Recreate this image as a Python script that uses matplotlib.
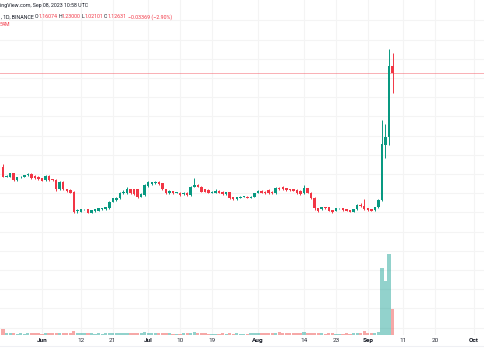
import matplotlib
matplotlib.use('Agg')
import matplotlib.pyplot as plt
import matplotlib.dates as mdates
import pandas as pd

# daily candles, 2023-05-21 .. 2023-09-08
opens = [0.635, 0.586, 0.586, 0.603, 0.569, 0.583, 0.586, 0.593, 0.600, 0.590,
         0.586, 0.577, 0.569, 0.590, 0.572, 0.569, 0.520, 0.560, 0.520, 0.517,
         0.508, 0.407, 0.404, 0.416, 0.416, 0.399, 0.407, 0.409, 0.416, 0.416,
         0.421, 0.456, 0.465, 0.473, 0.499, 0.499, 0.520, 0.520, 0.520, 0.482,
         0.491, 0.537, 0.546, 0.551, 0.557, 0.551, 0.520, 0.499, 0.510, 0.503,
         0.503, 0.496, 0.503, 0.491, 0.534, 0.543, 0.534, 0.520, 0.517, 0.503,
         0.503, 0.513, 0.508, 0.496, 0.505, 0.478, 0.468, 0.477, 0.482, 0.482,
         0.477, 0.482, 0.503, 0.513, 0.508, 0.517, 0.508, 0.499, 0.525, 0.531,
         0.525, 0.520, 0.520, 0.517, 0.513, 0.499, 0.525, 0.503, 0.477, 0.421,
         0.416, 0.426, 0.426, 0.412, 0.409, 0.421, 0.421, 0.416, 0.412, 0.404,
         0.416, 0.436, 0.433, 0.421, 0.416, 0.412, 0.426, 0.465, 0.751, 0.793,
         1.16074]
closes = [0.586, 0.590, 0.603, 0.569, 0.583, 0.586, 0.593, 0.600, 0.577, 0.577,
          0.572, 0.565, 0.590, 0.569, 0.569, 0.520, 0.560, 0.520, 0.510, 0.503,
          0.404, 0.412, 0.416, 0.416, 0.399, 0.412, 0.416, 0.421, 0.421, 0.426,
          0.456, 0.473, 0.477, 0.503, 0.508, 0.522, 0.499, 0.496, 0.482, 0.496,
          0.543, 0.557, 0.557, 0.557, 0.546, 0.520, 0.499, 0.513, 0.499, 0.503,
          0.491, 0.503, 0.491, 0.534, 0.543, 0.534, 0.508, 0.508, 0.503, 0.508,
          0.513, 0.503, 0.496, 0.505, 0.473, 0.468, 0.478, 0.482, 0.482, 0.477,
          0.482, 0.499, 0.513, 0.503, 0.499, 0.499, 0.499, 0.525, 0.520, 0.520,
          0.517, 0.517, 0.513, 0.499, 0.496, 0.525, 0.503, 0.473, 0.421, 0.409,
          0.426, 0.421, 0.409, 0.402, 0.421, 0.421, 0.412, 0.409, 0.404, 0.416,
          0.439, 0.433, 0.416, 0.412, 0.409, 0.426, 0.465, 0.756, 0.793, 1.161,
          1.12631]
highs = [0.650, 0.594, 0.606, 0.606, 0.586, 0.590, 0.596, 0.606, 0.603, 0.595,
         0.590, 0.580, 0.596, 0.593, 0.576, 0.572, 0.563, 0.563, 0.523, 0.520,
         0.511, 0.416, 0.419, 0.420, 0.419, 0.415, 0.419, 0.424, 0.424, 0.429,
         0.459, 0.476, 0.481, 0.506, 0.515, 0.530, 0.524, 0.524, 0.524, 0.499,
         0.546, 0.561, 0.560, 0.561, 0.561, 0.554, 0.523, 0.516, 0.513, 0.507,
         0.506, 0.506, 0.506, 0.537, 0.577, 0.546, 0.537, 0.523, 0.520, 0.511,
         0.520, 0.516, 0.511, 0.508, 0.508, 0.481, 0.481, 0.486, 0.486, 0.486,
         0.486, 0.503, 0.516, 0.516, 0.511, 0.520, 0.511, 0.530, 0.534, 0.537,
         0.528, 0.523, 0.523, 0.520, 0.516, 0.543, 0.528, 0.506, 0.480, 0.424,
         0.430, 0.430, 0.429, 0.415, 0.424, 0.425, 0.424, 0.419, 0.415, 0.419,
         0.443, 0.447, 0.468, 0.424, 0.419, 0.429, 0.468, 0.881, 0.860, 1.251,
         1.23000]
lows = [0.583, 0.584, 0.584, 0.565, 0.566, 0.580, 0.583, 0.590, 0.574, 0.573,
        0.569, 0.561, 0.566, 0.566, 0.565, 0.510, 0.516, 0.516, 0.506, 0.499,
        0.395, 0.395, 0.400, 0.411, 0.395, 0.397, 0.404, 0.406, 0.413, 0.413,
        0.418, 0.452, 0.461, 0.470, 0.496, 0.496, 0.495, 0.492, 0.477, 0.479,
        0.488, 0.534, 0.542, 0.548, 0.542, 0.516, 0.495, 0.496, 0.496, 0.499,
        0.487, 0.493, 0.487, 0.488, 0.531, 0.531, 0.505, 0.505, 0.499, 0.500,
        0.500, 0.499, 0.492, 0.493, 0.468, 0.464, 0.465, 0.474, 0.478, 0.473,
        0.474, 0.479, 0.499, 0.499, 0.496, 0.496, 0.496, 0.496, 0.517, 0.517,
        0.513, 0.513, 0.510, 0.496, 0.492, 0.496, 0.499, 0.468, 0.412, 0.402,
        0.412, 0.418, 0.405, 0.397, 0.406, 0.417, 0.408, 0.405, 0.400, 0.401,
        0.413, 0.430, 0.412, 0.408, 0.405, 0.409, 0.423, 0.460, 0.683, 0.751,
        1.02101]
volumes_m = [12.0, 3.5, 3.2, 3.8, 3.0, 3.4, 3.1, 3.6, 3.3, 3.5,
             3.2, 3.0, 3.4, 3.6, 4.2, 3.5, 4.0, 3.8, 3.6, 3.4,
             8.5, 4.5, 4.2, 3.5, 3.8, 3.2, 3.0, 3.4, 3.1, 3.3,
             4.5, 4.8, 4.4, 5.0, 4.6, 4.8, 4.0, 3.8, 4.4, 3.6,
             6.2, 5.0, 4.0, 3.6, 3.4, 3.8, 4.0, 3.2, 3.0, 2.8,
             3.0, 3.2, 3.4, 5.2, 6.8, 4.2, 3.8, 3.2, 3.0, 2.8,
             3.0, 2.8, 3.2, 3.0, 3.6, 3.0, 3.2, 2.8, 2.6, 3.0,
             3.8, 4.6, 4.8, 4.4, 4.0, 4.6, 4.2, 5.2, 5.6, 4.6,
             4.0, 3.4, 3.6, 3.8, 4.0, 6.0, 4.4, 4.0, 4.6, 3.8,
             3.6, 3.0, 3.4, 3.2, 3.0, 2.8, 3.0, 3.2, 3.0, 3.4,
             4.0, 4.2, 8.2, 4.0, 4.8, 4.6, 6.5, 139.0, 112.0, 168.0,
             54.0]

tick_dates = ['2023-06-01', '2023-06-12', '2023-06-21', '2023-07-01', '2023-07-10',
              '2023-07-19', '2023-08-01', '2023-08-14', '2023-08-23', '2023-09-01',
              '2023-09-11', '2023-09-20', '2023-10-01']
tick_labels = ['Jun', '12', '21', 'Jul', '10', '19', 'Aug', '14', '23', 'Sep', '11', '20', 'Oct']
month_labels = {'Jun', 'Jul', 'Aug', 'Sep', 'Oct'}

UP = '#089981'
DOWN = '#f23645'
VOL_UP = '#26a69a'
VOL_DOWN = '#ef5350'
GRID = '#f4f4f4'
TEXT = '#131722'
W, H = 485, 360

plt.rcParams['font.family'] = ['Roboto', 'DejaVu Sans']

dates = mdates.date2num(pd.date_range('2023-05-21', periods=len(closes)))
jun1 = mdates.date2num(pd.Timestamp('2023-06-01'))

fig = plt.figure(figsize=(W / 100, H / 100), dpi=100)
ax = fig.add_axes([0, 25 / H, 1, 335 / H])
vax = ax.twinx()

# candles
for d, o, c, hi, lo in zip(dates, opens, closes, highs, lows):
    col = UP if c >= o else DOWN
    ax.vlines(d, lo, hi, color=col, lw=0.7, zorder=3)
    ax.bar(d, abs(c - o) if abs(c - o) > 0.002 else 0.002, bottom=min(o, c),
           width=0.7, color=col, lw=0, zorder=4)

# volume overlay on the bottom of the pane
vcols = [VOL_UP if c >= o else VOL_DOWN for o, c in zip(opens, closes)]
vax.bar(dates, volumes_m, width=0.92, color=vcols, alpha=0.5, lw=0)
vax.set_ylim(0, 335 * 2.08)

# last price line
ax.axhline(closes[-1], color=DOWN, lw=0.7, alpha=0.4, zorder=2)

ax.set_xlim(jun1 - 42 / 3.541, jun1 + (W - 42) / 3.541)
ax.set_ylim(1.1 - 257 / 192, 1.1 + 78 / 192)
ax.set_yticks([round(-0.2 + 0.1 * k, 1) for k in range(17)])
ax.set_xticks(mdates.date2num(pd.to_datetime(tick_dates)))
ax.set_xticklabels(tick_labels)
ax.grid(True, color=GRID, lw=0.8, zorder=0)
ax.set_axisbelow(True)
ax.tick_params(axis='x', length=0, pad=2.2, labelsize=4.6, labelcolor=TEXT)
ax.tick_params(axis='y', left=False, labelleft=False)
for lab in ax.get_xticklabels():
    if lab.get_text() in month_labels:
        lab.set_fontweight('bold')
    else:
        lab.set_color('#2a2e39')
vax.tick_params(axis='y', right=False, labelright=False)
for a in (ax, vax):
    for s in a.spines.values():
        s.set_visible(False)

# header legend (cut off on the left, as in the screenshot)
def px_text(x, y, s, color=TEXT, size=3.8):
    fig.text(x / W, 1 - y / H, s, color=color, fontsize=size, ha='left', va='center')

px_text(0, 5.7, 'ingView.com, Sep 08, 2023 10:58 UTC')
px_text(1, 16.7, ', 1D, BINANCE')
px_text(35, 16.7, 'O')
px_text(39, 16.7, '1.16074', DOWN)
px_text(58.5, 16.7, 'H')
px_text(62, 16.7, '1.23000', DOWN)
px_text(81.5, 16.7, 'L')
px_text(84.5, 16.7, '1.02101', DOWN)
px_text(104, 16.7, 'C')
px_text(107.5, 16.7, '1.12631', DOWN)
px_text(128, 16.7, '\u22120.03369 (\u22122.90%)', DOWN)
px_text(0, 24.5, '54M', DOWN)

fig.add_artist(plt.Line2D([0, 1], [1 - 345.5 / H] * 2, color='#e0e3eb', lw=0.8, alpha=0.5))

fig.savefig('out.png', dpi=100)
